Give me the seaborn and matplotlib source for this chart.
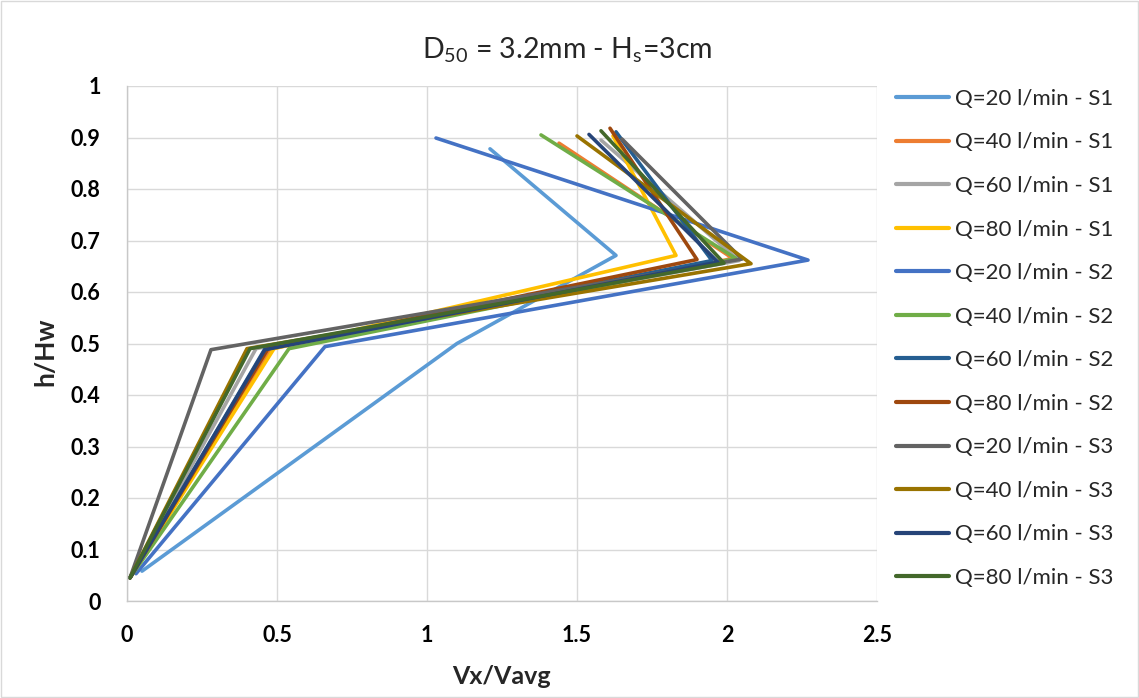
import numpy as np
import pandas as pd
import matplotlib
matplotlib.use("Agg")
import matplotlib.pyplot as plt
import seaborn as sns
from matplotlib.patches import Rectangle
from matplotlib.ticker import FuncFormatter

# Velocity profiles: four measuring depths per run
labels = [
    "Q=20 l/min - S1", "Q=40 l/min - S1", "Q=60 l/min - S1", "Q=80 l/min - S1",
    "Q=20 l/min - S2", "Q=40 l/min - S2", "Q=60 l/min - S2", "Q=80 l/min - S2",
    "Q=20 l/min - S3", "Q=40 l/min - S3", "Q=60 l/min - S3", "Q=80 l/min - S3",
]

vx_q20_s1 = [0.05, 1.10, 1.63, 1.21]
vx_q40_s1 = [0.01, 0.48, 2.02, 1.44]
vx_q60_s1 = [0.01, 0.43, 2.04, 1.58]
vx_q80_s1 = [0.01, 0.49, 1.83, 1.62]
vx_q20_s2 = [0.03, 0.66, 2.27, 1.03]
vx_q40_s2 = [0.01, 0.54, 2.03, 1.38]
vx_q60_s2 = [0.01, 0.46, 1.95, 1.63]
vx_q80_s2 = [0.01, 0.47, 1.90, 1.61]
vx_q20_s3 = [0.01, 0.28, 2.05, 1.65]
vx_q40_s3 = [0.01, 0.40, 2.08, 1.50]
vx_q60_s3 = [0.01, 0.46, 1.97, 1.54]
vx_q80_s3 = [0.01, 0.41, 1.99, 1.58]

h_q20_s1 = [0.058, 0.500, 0.671, 0.878]
h_q40_s1 = [0.045, 0.490, 0.665, 0.889]
h_q60_s1 = [0.045, 0.490, 0.661, 0.895]
h_q80_s1 = [0.045, 0.490, 0.671, 0.903]
h_q20_s2 = [0.053, 0.494, 0.662, 0.899]
h_q40_s2 = [0.045, 0.490, 0.665, 0.905]
h_q60_s2 = [0.045, 0.490, 0.661, 0.911]
h_q80_s2 = [0.045, 0.490, 0.663, 0.918]
h_q20_s3 = [0.045, 0.488, 0.664, 0.897]
h_q40_s3 = [0.045, 0.490, 0.655, 0.903]
h_q60_s3 = [0.045, 0.488, 0.658, 0.906]
h_q80_s3 = [0.045, 0.490, 0.656, 0.913]

vx_all = [vx_q20_s1, vx_q40_s1, vx_q60_s1, vx_q80_s1,
          vx_q20_s2, vx_q40_s2, vx_q60_s2, vx_q80_s2,
          vx_q20_s3, vx_q40_s3, vx_q60_s3, vx_q80_s3]
h_all = [h_q20_s1, h_q40_s1, h_q60_s1, h_q80_s1,
         h_q20_s2, h_q40_s2, h_q60_s2, h_q80_s2,
         h_q20_s3, h_q40_s3, h_q60_s3, h_q80_s3]

colors = ["#5B9BD5", "#ED7D31", "#A5A5A5", "#FFC000",
          "#4472C4", "#70AD47", "#255E91", "#9E480E",
          "#636363", "#997300", "#264478", "#43682B"]

x_ticks = [0, 0.5, 1, 1.5, 2, 2.5]
y_ticks = [0, 0.1, 0.2, 0.3, 0.4, 0.5, 0.6, 0.7, 0.8, 0.9, 1]

rows = []
for lab, xs, hs in zip(labels, vx_all, h_all):
    for i, (xv, hv) in enumerate(zip(xs, hs)):
        rows.append({"series": lab, "Vx/Vavg": xv, "h/Hw": hv, "order": i})
df = pd.DataFrame(rows)

sns.set_theme(style="white")
plt.rcParams["font.family"] = ["Lato", "DejaVu Sans"]
plt.rcParams["mathtext.fontset"] = "custom"
plt.rcParams["mathtext.rm"] = "Lato"
plt.rcParams["mathtext.it"] = "Lato"
plt.rcParams["mathtext.default"] = "regular"

fig = plt.figure(figsize=(11.39, 6.98), dpi=100)
ax = fig.add_axes([127 / 1139, 1 - 601 / 698, 750 / 1139, 515 / 698])

sns.lineplot(data=df, x="Vx/Vavg", y="h/Hw", hue="series", hue_order=labels,
             palette=colors, sort=False, estimator=None, units="series",
             linewidth=2.6, ax=ax, legend=False)

ax.set_xlim(0, 2.5)
ax.set_ylim(0, 1)
ax.set_xticks(x_ticks)
ax.set_yticks(y_ticks)
fmt = FuncFormatter(lambda v, p: f"{v:g}")
ax.xaxis.set_major_formatter(fmt)
ax.yaxis.set_major_formatter(fmt)
ax.tick_params(axis="both", length=0, labelsize=15.5, colors="black")
ax.tick_params(axis="x", pad=17)
ax.tick_params(axis="y", pad=19)
for t in ax.get_xticklabels() + ax.get_yticklabels():
    t.set_fontweight("bold")
ax.grid(True, color="#D9D9D9", linewidth=1.0)
ax.set_axisbelow(True)
for s in ["top", "right"]:
    ax.spines[s].set_visible(False)
for s in ["left", "bottom"]:
    ax.spines[s].set_color("#C8C8C8")
    ax.spines[s].set_linewidth(1.0)

ax.set_xlabel("Vx/Vavg", fontsize=18, fontweight="bold")
ax.set_ylabel("h/Hw", fontsize=19, fontweight="bold")
ax.xaxis.set_label_coords(501 / 1139, 1 - 676 / 698, transform=fig.transFigure)
ax.yaxis.set_label_coords(45 / 1139, 1 - 352 / 698, transform=fig.transFigure)
ax.xaxis.label.set_va("center")
ax.yaxis.label.set_va("center")

fig.text(567 / 1139, 1 - 50 / 698, r"D$_{50}$ = 3.2mm - H$_{s}$=3cm",
         ha="center", va="center", fontsize=20.5)

handles = [plt.Line2D([], [], color=c, linewidth=3.0) for c in colors]
fig.legend(handles, labels, loc="upper left",
           bbox_to_anchor=(887 / 1139, 1 - 80 / 698), frameon=False,
           fontsize=16, handlelength=2.4, handletextpad=0.25,
           labelspacing=1.06, borderaxespad=0)

fig.patches.append(Rectangle((0.001, 0.001), 0.998, 0.998, transform=fig.transFigure,
                             fill=False, edgecolor="#D9D9D9", linewidth=1.0))

fig.savefig("out.png", dpi=100)
